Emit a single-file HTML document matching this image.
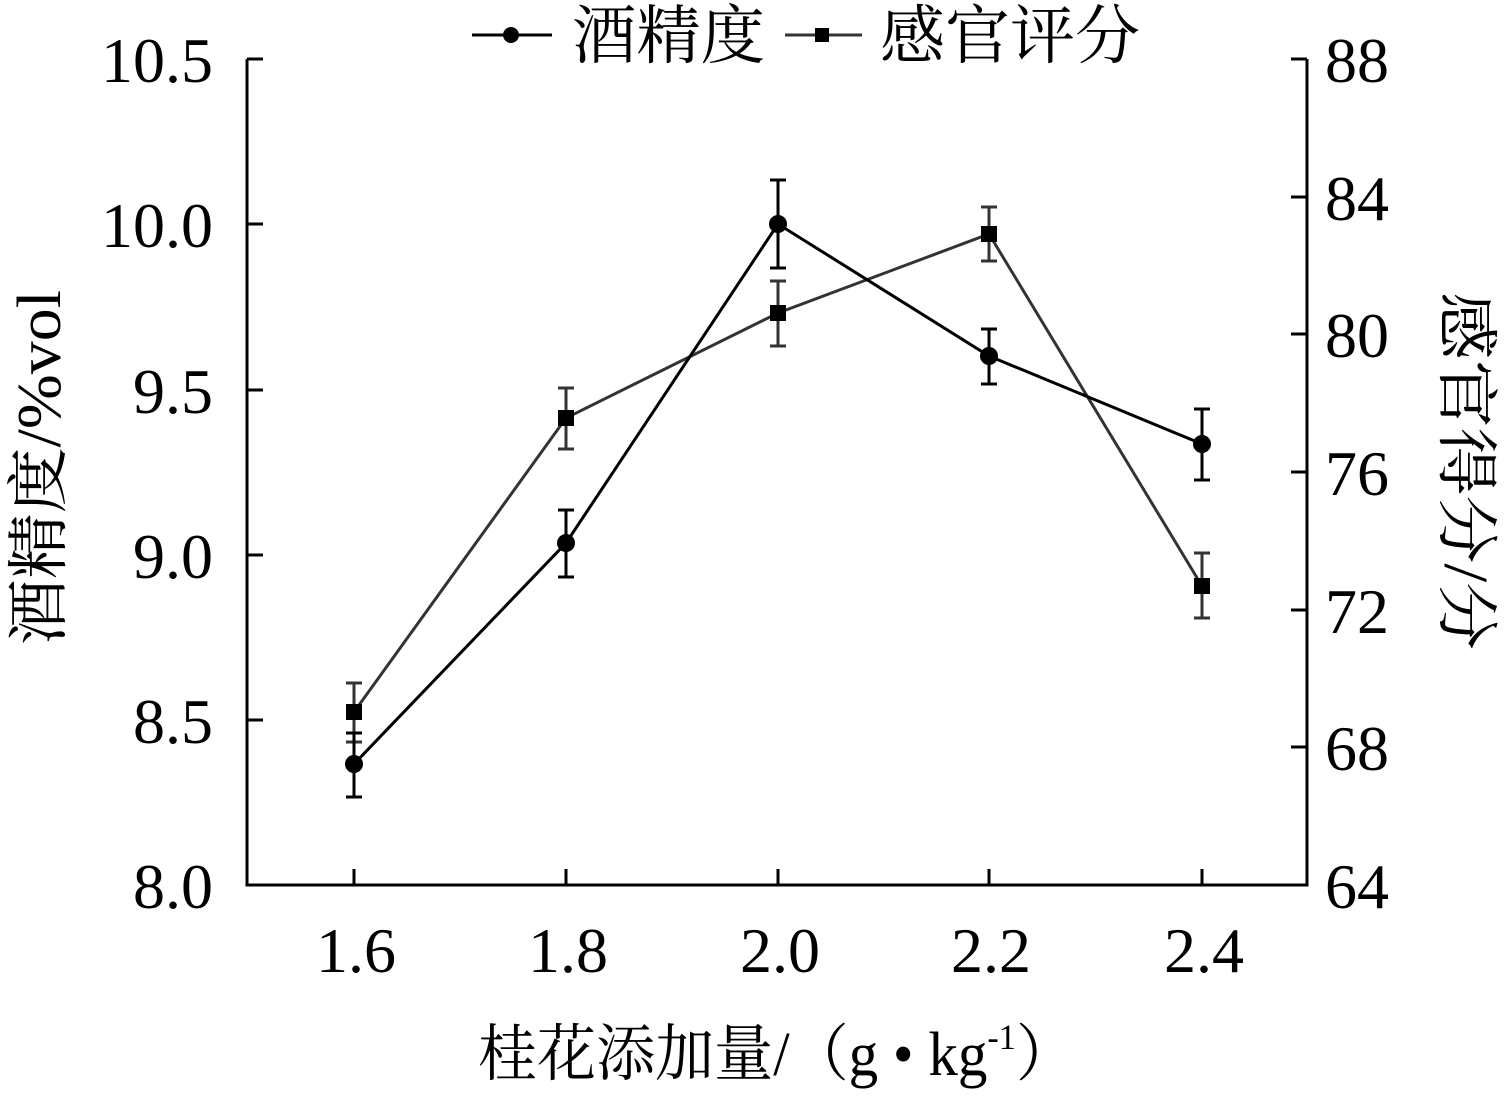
<!DOCTYPE html>
<html><head><meta charset="utf-8"><style>
html,body{margin:0;padding:0;background:#fff;}
svg{display:block;}
text{font-family:"Liberation Serif","Noto Serif CJK SC","Noto Sans CJK SC",serif;fill:#000;}
</style></head><body>
<svg width="1505" height="1098" viewBox="0 0 1505 1098" xmlns="http://www.w3.org/2000/svg">
<g stroke="#000" stroke-width="3" fill="none">
<polyline points="247,59 247,885 1307,885 1307,59"/>
<path d="M247,59h16M247,224h16M247,390h16M247,555h16M247,720h16"/>
<path d="M1307,59h-16M1307,197h-16M1307,334h-16M1307,472h-16M1307,610h-16M1307,747h-16"/>
<path d="M354,885v-16M566,885v-16M778,885v-16M989,885v-16M1202,885v-16"/>
</g>
<g font-size="64" text-anchor="end">
<text x="213" y="82">10.5</text><text x="213" y="247">10.0</text><text x="213" y="413">9.5</text>
<text x="213" y="578">9.0</text><text x="213" y="743">8.5</text><text x="213" y="908">8.0</text>
</g>
<g font-size="64" text-anchor="start">
<text x="1325" y="82">88</text><text x="1325" y="220">84</text><text x="1325" y="357">80</text>
<text x="1325" y="495">76</text><text x="1325" y="633">72</text><text x="1325" y="770">68</text><text x="1325" y="908">64</text>
</g>
<g font-size="64" text-anchor="middle">
<text x="356" y="972">1.6</text><text x="568" y="972">1.8</text><text x="780" y="972">2.0</text>
<text x="991" y="972">2.2</text><text x="1204" y="972">2.4</text>
</g>
<text x="478" y="1075" font-size="62" textLength="597" lengthAdjust="spacingAndGlyphs">桂花添加量/（g • kg<tspan font-size="36" dy="-26">-1</tspan><tspan dy="26">）</tspan></text>
<text transform="translate(60,645) rotate(-90)" font-size="62" textLength="355" lengthAdjust="spacingAndGlyphs">酒精度/%vol</text>
<text transform="translate(1445,292) rotate(90)" font-size="62" textLength="358" lengthAdjust="spacingAndGlyphs">感官得分/分</text>
<g stroke="#333" stroke-width="3" fill="none">
<polyline points="354,712 566,418 778,313 989,234 1202,586"/>
<path d="M354,683v59M346,683h16M346,742h16 M566,388v61M558,388h16M558,449h16 M778,281v65M770,281h16M770,346h16 M989,207v54M981,207h16M981,261h16 M1202,553v65M1194,553h16M1194,618h16"/>
</g>
<g fill="#000">
<rect x="346" y="704" width="16" height="16"/><rect x="558" y="410" width="16" height="16"/>
<rect x="770" y="305" width="16" height="16"/><rect x="981" y="226" width="16" height="16"/>
<rect x="1194" y="578" width="16" height="16"/>
</g>
<g stroke="#000" stroke-width="3" fill="none">
<polyline points="354,764 566,543 778,224 989,356 1202,444"/>
<path d="M354,733v64M346,733h16M346,797h16 M566,510v67M558,510h16M558,577h16 M778,180v88M770,180h16M770,268h16 M989,329v55M981,329h16M981,384h16 M1202,409v71M1194,409h16M1194,480h16"/>
</g>
<g fill="#000">
<circle cx="354" cy="764" r="9"/><circle cx="566" cy="543" r="9"/><circle cx="778" cy="224" r="9"/>
<circle cx="989" cy="356" r="9"/><circle cx="1202" cy="444" r="9"/>
</g>
<g stroke-width="3">
<line x1="472" y1="35" x2="552" y2="35" stroke="#000"/>
<line x1="785" y1="35" x2="862" y2="35" stroke="#333"/>
</g>
<circle cx="511" cy="35" r="8" fill="#000"/>
<rect x="815" y="28" width="14" height="14" fill="#000"/>
<text x="572" y="58" font-size="64" textLength="193" lengthAdjust="spacingAndGlyphs">酒精度</text>
<text x="880" y="58" font-size="64" textLength="260" lengthAdjust="spacingAndGlyphs">感官评分</text>
</svg>
</body></html>
